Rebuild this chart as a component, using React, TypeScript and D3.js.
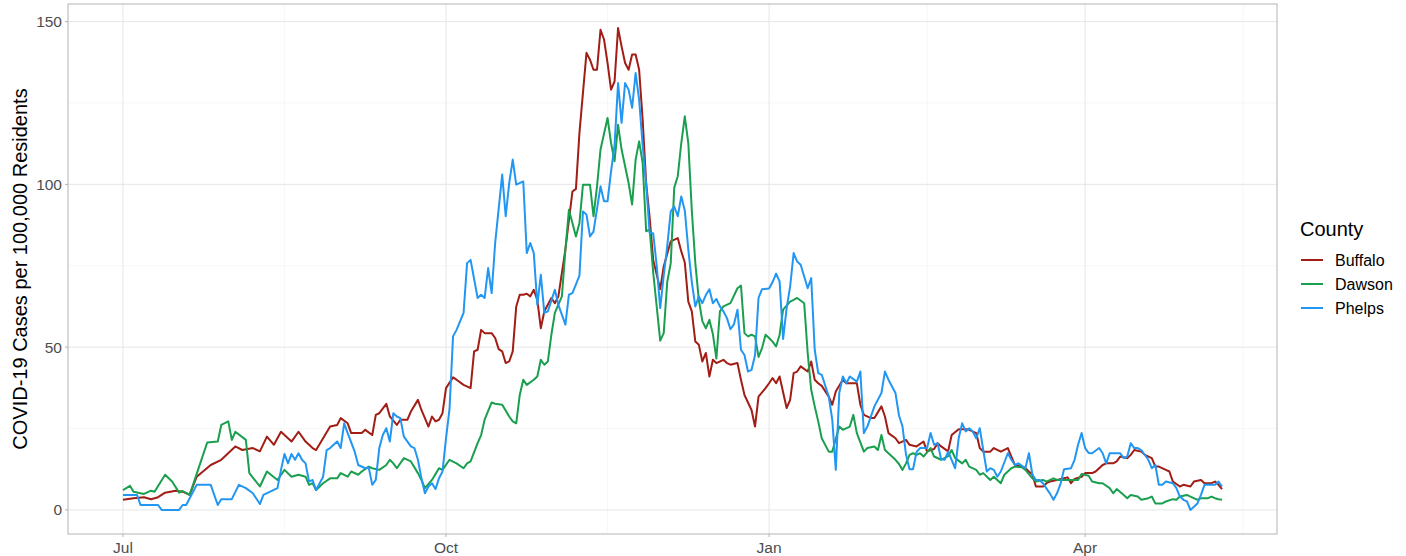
import React from 'react';
import * as d3 from 'd3';

// days since 2020-07-01, cases per 100k
const startDate = new Date(2020, 6, 1);

const buffalo: [number, number][] = [
  [0,3.1],[3,3.6],[6,3.9],[8,3.3],[10,3.9],[12,5.3],[15,5.9],[17,5.6],[19,4.6],[21,10.2],[25,13.8],[28,15.4],[32,19.5],[34,18.4],[37,19],[39,18],[41,22.5],[43,20],[45,24],[48,21],[50,24],[52,21],[54,19],[55,18.4],[57,22],[59,25.6],[61,26.1],[62,28.2],[64,26.6],[65,23.6],[68,23.6],[69,24.6],[71,23],[72,29.2],[73,29.7],[75,32.6],[76,28.7],[78,26.1],[79,27.7],[81,27.7],[82,30.2],[84,33.8],[85,30.7],[87,25.6],[88,28.7],[89,27.2],[90,27.7],[91,29.7],[92,37.4],[94,40.7],[95,40],[97,38.4],[99,37.4],[100,48.7],[101,49.2],[102,55.3],[103,54.3],[105,54.3],[106,52.8],[107,49.4],[108,48.7],[109,45.1],[110,45.6],[111,48.7],[112,62.5],[113,66.1],[114,66.1],[115,66.4],[116,65.6],[117,67.6],[118,64.5],[119,55.8],[120,61],[122,65.1],[123,63.5],[124,65.6],[126,80],[127,89],[128,97.8],[129,98.6],[130,115.8],[132,140.4],[133,138.3],[134,135.2],[135,135.2],[136,147.5],[137,144.5],[138,137.3],[139,129.1],[140,131.6],[141,148],[142,142.4],[143,137.3],[144,135.2],[145,139.9],[146,139.9],[147,135.2],[148,119.9],[149,100.4],[150,89.7],[151,76.8],[153,67.8],[154,74.8],[156,82.5],[158,83.5],[159,79.4],[160,76],[161,64],[162,61],[163,51.7],[164,50.7],[165,45.6],[166,48.2],[167,41],[168,46.1],[169,45.1],[171,46.1],[172,45.1],[173,44.6],[175,45.1],[176,40],[177,35.3],[179,30.7],[180,25.6],[181,34.8],[183,37.4],[184,38.9],[185,40.5],[186,38.9],[187,41],[189,31.3],[190,33.8],[191,42],[192,42.5],[193,44.1],[195,42.5],[196,45.6],[197,40],[198,38.9],[199,38.1],[201,34.8],[202,32.3],[203,36.4],[205,40],[206,38.9],[208,38.9],[209,38.9],[210,32.3],[211,29.2],[213,28.2],[214,28.2],[216,31.8],[217,28.7],[218,23.6],[220,22],[221,20.5],[223,21.5],[224,20],[226,19.5],[228,21],[229,18],[231,18.7],[232,20.5],[233,19.5],[235,18],[236,23],[238,24.8],[240,24.8],[241,24.6],[243,23.6],[244,19],[245,17.9],[247,17.9],[248,19],[250,17.9],[252,19],[253,16.4],[254,13.8],[256,13.3],[257,12.8],[259,10.8],[260,7.2],[262,7.2],[263,8.2],[264,8.7],[266,9.2],[268,9.7],[269,10],[270,8.2],[271,9.5],[273,10.2],[274,11.3],[276,11.3],[277,11.8],[279,13.8],[280,14.3],[282,14.3],[283,14.9],[284,16.4],[286,15.9],[287,16.9],[288,18.4],[290,17.9],[291,16.9],[293,15.9],[294,13.3],[295,13.3],[297,12.3],[298,11.8],[299,8.7],[301,7.2],[302,7.7],[304,7.2],[305,8.7],[307,9.2],[308,8.2],[310,8.2],[311,8.7],[312,7.7],[313,6.4]
];

const dawson: [number, number][] = [
  [0,6.1],[2,7.4],[3,5.6],[6,4.9],[8,5.9],[9,5.6],[12,10.8],[14,8.7],[16,5.3],[17,5.8],[19,4.6],[22,14.3],[24,20.7],[27,21],[28,26.1],[30,27.2],[31,21.5],[32,24],[35,21.5],[36,11.3],[39,7.2],[41,11.8],[44,9.2],[46,12.3],[48,10.2],[50,10.8],[52,10.2],[53,7.7],[54,8.2],[55,6.1],[57,8.2],[59,9.7],[61,9.7],[62,11.3],[64,10.2],[65,11.8],[67,10.8],[68,11.8],[70,13.3],[71,12.8],[73,12.3],[75,13.8],[76,15.4],[77,14.3],[78,12.8],[80,15.9],[82,14.9],[84,11.3],[85,9.2],[86,6.7],[88,9.2],[90,12.8],[91,12.3],[93,15.4],[95,14.3],[97,12.8],[98,14.3],[99,14.9],[101,20.5],[102,23],[103,27.7],[105,33],[106,32.6],[108,32.3],[110,28.7],[111,27.2],[112,26.6],[113,35.3],[114,40],[115,38.4],[117,40],[118,41],[119,46.1],[120,44.6],[121,45.6],[122,53.8],[123,60.5],[125,65.6],[126,79.9],[127,92.2],[128,88.1],[129,84],[130,88.1],[131,99.9],[133,99.9],[134,90.2],[135,99.4],[136,110.7],[138,120.4],[139,112.7],[140,107.1],[141,118.3],[142,110.7],[144,100.4],[145,93.8],[146,107.6],[147,113.2],[148,106.6],[149,85.6],[150,86.1],[151,73],[153,52],[154,54.3],[155,70],[156,75.8],[157,99],[158,102.5],[159,112.7],[160,120.9],[161,112.7],[162,92],[163,75.8],[164,64.5],[165,58],[166,55.8],[167,58.4],[168,54],[169,46.5],[170,61],[171,62.5],[173,63.5],[175,68.1],[176,68.9],[177,54.3],[178,53.3],[179,53.8],[180,53.3],[181,47],[182,49.7],[183,53.8],[184,52.8],[185,51.7],[186,50.2],[187,53.8],[188,61.5],[190,64],[191,64.5],[192,65.1],[194,63.5],[195,48.2],[196,36.9],[197,31.8],[198,27.2],[199,22],[201,17.9],[202,17.9],[204,25.6],[205,24.6],[207,25.6],[208,29.2],[209,23.6],[211,17.9],[212,19],[214,19.5],[215,18.4],[216,23],[217,18.4],[218,17.4],[220,15.4],[221,14.1],[222,12.3],[223,14.3],[224,16.9],[225,17.4],[226,16.9],[227,17.4],[228,16.4],[230,19],[231,16.4],[233,15.4],[235,16.5],[236,18.4],[237,15.9],[239,14.3],[240,15.4],[241,13.3],[243,12.3],[244,10.8],[245,11.3],[247,9.2],[248,10.2],[250,8.2],[251,10.8],[253,12.8],[254,13.3],[256,13.1],[257,12.3],[259,9.7],[260,8.7],[262,9.2],[263,8.7],[265,9.7],[266,9.2],[268,9.2],[270,9.2],[272,9.2],[273,11],[275,10.5],[276,8.7],[278,8.2],[279,8.2],[281,6.7],[282,5.1],[283,6.4],[285,4.6],[286,3.6],[287,4.6],[289,4.1],[290,3.1],[292,3.6],[293,4.1],[294,2],[296,2],[297,2.6],[299,3.3],[300,3.1],[301,4.1],[303,4.6],[304,4.1],[306,3.1],[307,3.6],[309,3.6],[310,4.1],[311,3.6],[312,3.3],[313,3.1]
];

const phelps: [number, number][] = [
  [0,4.6],[4,4.6],[5,1.5],[10,1.5],[11,0],[16,0],[17,1.5],[18,1.5],[21,7.7],[25,7.7],[27,1.5],[28,3.3],[31,3.3],[33,7.7],[35,6.7],[37,5.1],[39,1.8],[40,4.6],[44,6.7],[45,12.3],[46,17.2],[47,14.3],[48,17.2],[49,15.4],[50,17.4],[51,15.4],[52,14.3],[53,8.7],[54,9.2],[55,6.1],[57,10.2],[58,18.4],[59,19],[61,21],[62,19],[63,26.6],[64,23.6],[66,17.9],[67,13.8],[69,12.8],[70,13],[71,7.7],[72,9.2],[73,19],[74,23],[75,25.1],[76,21],[77,29.7],[78,28.7],[79,28.2],[80,22.5],[82,19.5],[83,19],[84,15.4],[85,9.7],[86,5.1],[87,7.2],[88,8.2],[89,6.4],[90,9.7],[91,11.8],[92,22],[93,31],[94,53.3],[95,55.3],[97,60.5],[98,75.8],[99,76.8],[101,65.1],[102,66.1],[103,65.1],[104,74.3],[105,66.6],[106,82],[108,103],[109,90.2],[110,100.4],[111,107.6],[112,99.9],[114,100.9],[115,78.9],[116,82],[117,78.9],[118,63],[119,72.2],[120,60.5],[121,61],[123,67.6],[124,63],[126,56.9],[127,66.1],[128,66.6],[130,72],[131,91.7],[132,90.7],[133,84],[134,85.5],[136,99.4],[137,94.8],[138,94.8],[139,104],[140,112],[141,131.1],[142,118.9],[143,131.1],[144,129.1],[145,123.5],[146,134.2],[147,126],[148,112],[149,100],[150,85],[151,85],[152,75],[153,62],[154,72],[155,81],[156,91.7],[157,93.2],[158,90.2],[159,96.3],[160,92],[161,80],[162,70],[163,62.5],[164,65.6],[165,63.5],[166,66],[167,67.8],[168,63.5],[169,64.8],[170,62.5],[171,61],[172,58.9],[173,55.5],[174,57],[175,61.5],[176,49.2],[177,47.6],[178,42.5],[179,43],[180,47.5],[181,65.1],[182,67.8],[184,68],[185,70],[186,72.6],[187,70.2],[188,52.5],[189,62],[190,68.6],[191,78.9],[192,76.3],[193,75.3],[195,68.1],[196,71.2],[197,49.2],[198,42],[199,41.5],[201,34.8],[202,27.7],[203,12.3],[204,36],[205,41],[206,38.9],[207,41],[209,39.4],[210,42.5],[211,23.6],[212,25.6],[214,31.8],[216,35.9],[217,42.5],[218,40],[220,35.9],[221,29],[222,25.6],[223,17],[224,12.5],[225,12.5],[226,17.8],[227,19],[229,19],[230,23.6],[231,20],[232,20.5],[233,15.6],[234,15.4],[235,17.9],[237,12.8],[238,22],[239,26.6],[240,24.1],[241,25.1],[242,24.1],[243,22],[244,25.1],[245,18.4],[246,11.8],[247,12.8],[248,12.3],[249,10.2],[250,11.8],[252,17.4],[253,15.4],[254,13.8],[255,14.3],[257,12.8],[258,17.4],[259,10.8],[260,9.2],[261,9.2],[262,8.2],[264,5],[265,3.1],[266,5.1],[267,8],[268,12.5],[270,12.8],[271,15.4],[272,20],[273,23.6],[274,19],[275,17.5],[276,17.4],[278,19],[279,17.4],[280,14.3],[281,17.4],[283,17.4],[284,17.4],[285,15.9],[286,16.4],[287,20.5],[288,19],[289,19],[290,18.4],[292,15.4],[293,12.8],[294,13.8],[295,7.7],[296,7.7],[297,8.7],[299,8.2],[300,6.7],[301,4.1],[302,3.1],[303,2.6],[304,0],[306,2],[307,4.6],[308,7.7],[310,7.7],[311,7.7],[312,8.7],[313,7.2]
];

const counties = ['Buffalo', 'Dawson', 'Phelps'];
const countyData = [buffalo, dawson, phelps];
const countyColors = ['#a11d15', '#1a9f4e', '#2196f3'];

const yBreaks = [0, 50, 100, 150];
const yMinor = [25, 75, 125];
const xBreaks = [new Date(2020, 6, 1), new Date(2020, 9, 1), new Date(2021, 0, 1), new Date(2021, 3, 1)];
const xMinor = [new Date(2020, 7, 16), new Date(2020, 10, 16), new Date(2021, 1, 15), new Date(2021, 4, 16)];

const W = 1406;
const H = 556;
const panel = { left: 68, right: 1277, top: 4, bottom: 534 };
const font = '"Liberation Sans", Arial, Helvetica, sans-serif';

export default function App() {
  const toDate = (d: number) => d3.timeDay.offset(startDate, d);
  const allDays = countyData.flat().map(p => p[0]);
  const allVals = countyData.flat().map(p => p[1]);
  const [d0, d1] = d3.extent(allDays) as [number, number];
  const [v0, v1] = d3.extent(allVals) as [number, number];
  const dayMs = 86400000;
  const padX = (d1 - d0) * 0.05 * dayMs;
  const padY = (v1 - v0) * 0.05;

  const x = d3.scaleTime()
    .domain([new Date(+toDate(d0) - padX), new Date(+toDate(d1) + padX)])
    .range([panel.left, panel.right]);
  const y = d3.scaleLinear()
    .domain([v0 - padY, v1 + padY])
    .range([panel.bottom, panel.top]);

  const line = d3.line<[number, number]>()
    .x(d => x(toDate(d[0])))
    .y(d => y(d[1]));

  const fmt = d3.timeFormat('%b');

  return (
    <svg width={W} height={H} style={{ position: 'absolute', left: 0, top: 0, background: 'white' }}>
      {/* minor grid */}
      {yMinor.map(v => (
        <line key={'ym' + v} x1={panel.left} x2={panel.right} y1={y(v)} y2={y(v)} stroke="#f2f2f2" strokeWidth={0.6} />
      ))}
      {xMinor.map(d => (
        <line key={'xm' + +d} x1={x(d)} x2={x(d)} y1={panel.top} y2={panel.bottom} stroke="#f2f2f2" strokeWidth={0.6} />
      ))}
      {/* major grid */}
      {yBreaks.map(v => (
        <line key={'y' + v} x1={panel.left} x2={panel.right} y1={y(v)} y2={y(v)} stroke="#e6e6e6" strokeWidth={1} />
      ))}
      {xBreaks.map(d => (
        <line key={'x' + +d} x1={x(d)} x2={x(d)} y1={panel.top} y2={panel.bottom} stroke="#e6e6e6" strokeWidth={1} />
      ))}

      {countyData.map((s, i) => (
        <path key={counties[i]} d={line(s) || ''} fill="none" stroke={countyColors[i]} strokeWidth={2} strokeLinejoin="round" />
      ))}

      <rect x={panel.left} y={panel.top} width={panel.right - panel.left} height={panel.bottom - panel.top}
        fill="none" stroke="#b3b3b3" strokeWidth={1} />

      {/* y axis */}
      {yBreaks.map(v => (
        <g key={'yt' + v}>
          <line x1={panel.left - 3} x2={panel.left} y1={y(v)} y2={y(v)} stroke="#b3b3b3" />
          <text x={panel.left - 6} y={y(v)} dy="0.35em" textAnchor="end" fontSize={15.5} fill="#4d4d4d" fontFamily={font}>{v}</text>
        </g>
      ))}
      {/* x axis */}
      {xBreaks.map(d => (
        <g key={'xt' + +d}>
          <line x1={x(d)} x2={x(d)} y1={panel.bottom} y2={panel.bottom + 3} stroke="#b3b3b3" />
          <text x={x(d)} y={panel.bottom + 19} textAnchor="middle" fontSize={15.5} fill="#4d4d4d" fontFamily={font}>{fmt(d)}</text>
        </g>
      ))}

      <text transform={`translate(27,${(panel.top + panel.bottom) / 2}) rotate(-90)`} textAnchor="middle"
        fontSize={20} fill="#000" fontFamily={font}>COVID-19 Cases per 100,000 Residents</text>

      {/* legend */}
      <g fontFamily={font}>
        <text x={1300} y={236} fontSize={20} fill="#000">County</text>
        {counties.map((c, i) => (
          <g key={c} transform={`translate(1301,${260 + i * 24})`}>
            <line x1={0} x2={22} y1={0} y2={0} stroke={countyColors[i]} strokeWidth={2} />
            <text x={34} y={0} dy="0.35em" fontSize={16} fill="#000">{c}</text>
          </g>
        ))}
      </g>
    </svg>
  );
}
